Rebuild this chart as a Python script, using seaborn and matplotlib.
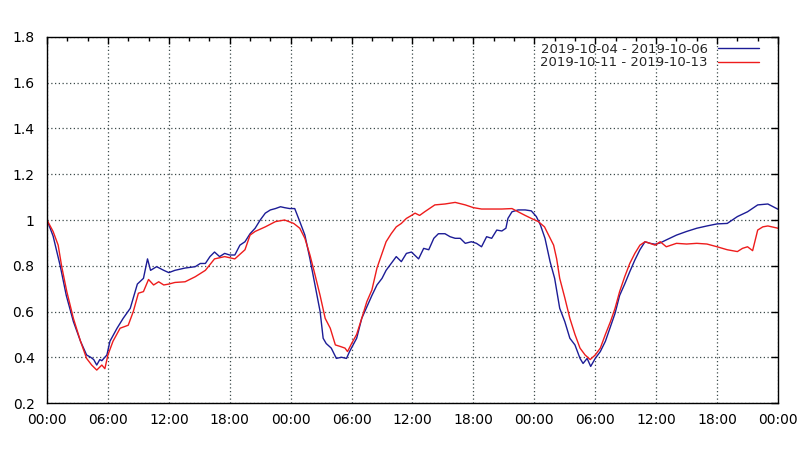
import matplotlib
matplotlib.use("Agg")
import matplotlib.pyplot as plt
from matplotlib.ticker import FixedLocator, FuncFormatter, MultipleLocator
import numpy as np
import pandas as pd
import seaborn as sns

# hours since the start of each 3-day window
week1_label = "2019-10-04 - 2019-10-06"
week1_hours = [
    0, 0.6, 1.3, 1.9, 2.6, 3.3, 3.9, 4.3, 4.6, 4.9, 5.2, 5.4, 5.9, 6.2, 6.9, 7.5,
    8.2, 8.9, 9.5, 9.9, 10.2, 10.8, 11.5, 12.0, 12.6, 13.6, 14.6, 15.1, 15.6,
    16.05, 16.5, 17.0, 17.5, 18.0, 18.5, 19.0, 19.5, 20.0, 20.5, 21.0, 21.5,
    22.0, 22.5, 23.0, 23.4, 23.9, 24.4, 24.9, 25.4, 25.9, 26.4, 26.9, 27.2,
    27.5, 28.0, 28.5, 29.0, 29.5, 29.8, 30.5, 31.0, 31.5, 32.0, 32.5, 33.0,
    33.4, 33.9, 34.4, 34.9, 35.4, 35.9, 36.6, 37.1, 37.6, 38.1, 38.55, 39.2,
    39.7, 40.2, 40.7, 41.2, 41.8, 42.3, 42.8, 43.3, 43.8, 44.3, 44.8, 45.2,
    45.4, 45.8, 46.4, 47.1, 47.7, 48.2, 48.6, 49.05, 49.55, 50.0, 50.5, 51.0,
    51.5, 52.0, 52.5, 52.8, 53.2, 53.55, 54.0, 54.5, 55.0, 55.5, 55.95, 56.4,
    56.9, 57.4, 57.9, 58.4, 58.9, 59.4, 59.9, 60.4, 61.0, 62.0, 63.0, 64.0,
    65.0, 66.0, 67.0, 68.0, 69.0, 70.0, 71.0, 72.0,
]
week1_values = [
    1.0, 0.93, 0.80, 0.67, 0.556, 0.47, 0.41, 0.40, 0.39, 0.366, 0.39, 0.385,
    0.41, 0.47, 0.527, 0.57, 0.614, 0.72, 0.745, 0.83, 0.78, 0.796, 0.78, 0.77,
    0.78, 0.79, 0.796, 0.81, 0.81, 0.84, 0.86, 0.84, 0.854, 0.847, 0.847, 0.89,
    0.905, 0.94, 0.964, 1.0, 1.03, 1.044, 1.05, 1.058, 1.054, 1.05, 1.05,
    0.993, 0.934, 0.83, 0.716, 0.60, 0.483, 0.46, 0.44, 0.395, 0.40, 0.395,
    0.425, 0.483, 0.57, 0.62, 0.67, 0.716, 0.745, 0.78, 0.81, 0.84, 0.818,
    0.854, 0.86, 0.83, 0.876, 0.87, 0.92, 0.94, 0.94, 0.927, 0.92, 0.92, 0.898,
    0.905, 0.898, 0.883, 0.927, 0.92, 0.956, 0.952, 0.964, 1.007, 1.036,
    1.044, 1.044, 1.04, 1.015, 0.978, 0.92, 0.818, 0.745, 0.614, 0.556, 0.483,
    0.454, 0.395, 0.373, 0.395, 0.36, 0.395, 0.425, 0.47, 0.534, 0.592, 0.67,
    0.72, 0.774, 0.825, 0.87, 0.905, 0.898, 0.894, 0.90, 0.913, 0.934, 0.95,
    0.964, 0.974, 0.983, 0.985, 1.015, 1.036, 1.066, 1.07, 1.047,
]

week2_label = "2019-10-11 - 2019-10-13"
week2_hours = [
    0, 0.6, 1.1, 1.45, 1.95, 2.6, 3.3, 3.9, 4.4, 4.9, 5.4, 5.7, 6.0, 6.5, 7.2,
    8.0, 8.5, 9.0, 9.5, 10.0, 10.5, 11.0, 11.5, 12.0, 12.6, 13.6, 14.6, 15.6,
    16.5, 17.5, 18.5, 19.5, 20.0, 20.5, 21.5, 22.5, 23.4, 24.3, 24.9, 25.4,
    25.9, 26.4, 26.9, 27.4, 27.9, 28.4, 28.9, 29.35, 29.6, 30.0, 30.5, 31.0,
    31.5, 32.0, 32.5, 33.0, 33.4, 33.9, 34.4, 34.9, 35.4, 35.9, 36.25, 36.7,
    37.2, 38.2, 39.2, 40.2, 41.2, 42.0, 42.8, 43.8, 44.8, 45.8, 46.4, 47.1,
    47.7, 48.4, 49.0, 49.9, 50.2, 50.5, 51.0, 51.5, 52.0, 52.5, 53.0, 53.5,
    54.0, 54.5, 55.0, 55.5, 55.95, 56.4, 56.9, 57.4, 57.9, 58.4, 58.9, 59.4,
    59.9, 60.4, 61.0, 62.0, 63.0, 64.0, 65.0, 66.0, 67.0, 68.0, 68.5, 69.0,
    69.5, 70.0, 70.5, 71.0, 72.0,
]
week2_values = [
    1.0, 0.95, 0.89, 0.796, 0.687, 0.57, 0.47, 0.395, 0.366, 0.344, 0.366,
    0.35, 0.41, 0.47, 0.527, 0.54, 0.60, 0.68, 0.687, 0.74, 0.716, 0.73, 0.716,
    0.72, 0.727, 0.73, 0.752, 0.78, 0.83, 0.84, 0.83, 0.87, 0.934, 0.95, 0.97,
    0.993, 1.0, 0.985, 0.964, 0.92, 0.847, 0.76, 0.67, 0.57, 0.527, 0.454,
    0.447, 0.44, 0.425, 0.46, 0.50, 0.57, 0.643, 0.694, 0.79, 0.854, 0.905,
    0.94, 0.97, 0.985, 1.007, 1.02, 1.03, 1.02, 1.036, 1.066, 1.07, 1.077,
    1.066, 1.054, 1.048, 1.048, 1.048, 1.05, 1.036, 1.02, 1.007, 0.993, 0.97,
    0.89, 0.83, 0.745, 0.66, 0.57, 0.50, 0.44, 0.41, 0.39, 0.41, 0.44, 0.50,
    0.556, 0.614, 0.687, 0.752, 0.81, 0.854, 0.89, 0.905, 0.898, 0.89, 0.905,
    0.883, 0.898, 0.895, 0.898, 0.895, 0.883, 0.87, 0.862, 0.876, 0.883,
    0.866, 0.956, 0.97, 0.974, 0.964,
]

x_ticks = list(range(0, 73, 6))
y_ticks = [0.2, 0.4, 0.6, 0.8, 1.0, 1.2, 1.4, 1.6, 1.8]

df = pd.concat(
    [
        pd.DataFrame({"hour": week1_hours, "value": week1_values, "period": week1_label}),
        pd.DataFrame({"hour": week2_hours, "value": week2_values, "period": week2_label}),
    ],
    ignore_index=True,
)

sns.set_style("white")
plt.rcParams["font.family"] = ["DejaVu Sans"]

fig = plt.figure(figsize=(8, 4.5), dpi=100)
ax = fig.add_axes([0.05875, 0.1044, 0.91375, 0.8134])

sns.lineplot(
    data=df,
    x="hour",
    y="value",
    hue="period",
    palette={week1_label: "#1c1c96", week2_label: "#ee1c1c"},
    linewidth=1.0,
    sort=False,
    estimator=None,
    ax=ax,
)

ax.set_xlim(0, 72)
ax.set_ylim(0.2, 1.8)
ax.xaxis.set_major_locator(FixedLocator(x_ticks))
ax.xaxis.set_minor_locator(MultipleLocator(2))
ax.xaxis.set_major_formatter(FuncFormatter(lambda h, _: f"{int(round(h)) % 24:02d}:00"))
ax.yaxis.set_major_locator(FixedLocator(y_ticks))
ax.yaxis.set_major_formatter(FuncFormatter(lambda v, _: f"{v:g}"))

ax.grid(True, which="major", linestyle=(0, (1, 2)), color="#3c4a4a", linewidth=0.9)
ax.tick_params(which="both", direction="in", top=True, right=True, colors="black",
               labelsize=10)
ax.tick_params(axis="x", pad=7)
ax.tick_params(axis="y", pad=9)
ax.tick_params(which="major", length=5, width=1)
ax.tick_params(which="minor", length=3, width=1)
for side in ax.spines.values():
    side.set_visible(True)
    side.set_color("black")
    side.set_linewidth(1.0)

ax.set_xlabel("")
ax.set_ylabel("")

ax.legend(
    loc="upper right",
    bbox_to_anchor=(0.985, 1.006),
    frameon=False,
    markerfirst=False,
    handlelength=3.1,
    handletextpad=0.8,
    labelspacing=0.05,
    fontsize=9.5,
    borderaxespad=0.2,
)

fig.savefig("out.png", dpi=100, facecolor="white")
